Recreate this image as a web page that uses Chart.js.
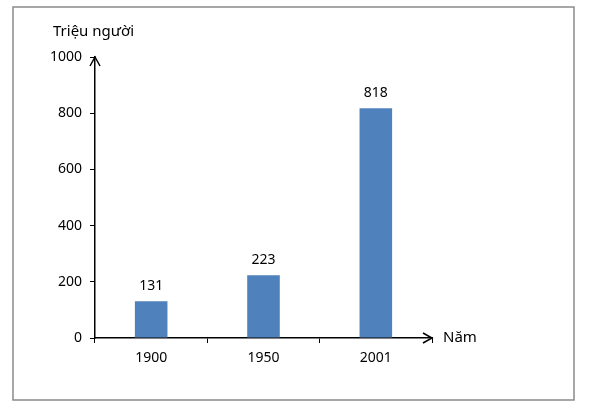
<!DOCTYPE html>
<html>
<head>
<meta charset="utf-8">
<script src="https://cdn.jsdelivr.net/npm/chart.js@4"></script>
<style>
  html, body { margin: 0; padding: 0; background: #fff; }
  #wrap { width: 589px; height: 408px; position: relative; }
</style>
</head>
<body>
<div id="wrap"><canvas id="popChart"></canvas></div>
<script>
// data
const years = ["1900", "1950", "2001"];
const population = [131, 223, 818];
const yTicks = [0, 200, 400, 600, 800, 1000];
const yTitle = "Triệu người";
const xTitle = "Năm";

const FONT = "'Noto Sans', 'DejaVu Sans', sans-serif";

// frame, arrows, axis titles and value labels
const decor = {
  id: "decor",
  afterDraw(chart) {
    const ctx = chart.ctx;
    const a = chart.chartArea;
    ctx.save();
    // outer frame
    ctx.strokeStyle = "#8a8a8a";
    ctx.lineWidth = 1.5;
    ctx.strokeRect(13, 7, 561, 393);

    // arrows
    ctx.strokeStyle = "#000";
    ctx.lineWidth = 1.5;
    ctx.beginPath();
    ctx.moveTo(a.left - 5, a.top + 9);
    ctx.lineTo(a.left, a.top);
    ctx.lineTo(a.left + 5, a.top + 9);
    ctx.moveTo(a.right - 9, a.bottom - 5);
    ctx.lineTo(a.right, a.bottom);
    ctx.lineTo(a.right - 9, a.bottom + 5);
    ctx.stroke();

    ctx.fillStyle = "#000";
    ctx.font = "15px " + FONT;
    ctx.textBaseline = "middle";
    ctx.textAlign = "left";
    ctx.fillText(yTitle, 53, 32);
    ctx.fillText(xTitle, a.right + 11, a.bottom);

    // values above bars
    ctx.font = "14px " + FONT;
    ctx.textAlign = "center";
    const meta = chart.getDatasetMeta(0);
    meta.data.forEach((bar, i) => {
      ctx.fillText(String(population[i]), bar.x, bar.y - 15);
    });
    ctx.restore();
  }
};

new Chart(document.getElementById("popChart"), {
  type: "bar",
  data: {
    labels: years,
    datasets: [{
      data: population,
      backgroundColor: "#4f81bd",
      categoryPercentage: 0.29,
      barPercentage: 1
    }]
  },
  options: {
    responsive: true,
    maintainAspectRatio: false,
    animation: false,
    layout: { padding: { left: 0, top: 57, right: 157, bottom: 0 } },
    plugins: { legend: { display: false }, tooltip: { enabled: false } },
    scales: {
      x: {
        afterFit(scale) { scale.height = 70; },
        grid: { display: true, drawOnChartArea: false, drawTicks: true, tickLength: 5, color: "#000", offset: true },
        border: { display: true, color: "#000", width: 1.5 },
        ticks: { color: "#000", font: { family: FONT, size: 14 }, padding: 7 }
      },
      y: {
        min: 0,
        max: 1000,
        afterFit(scale) { scale.width = 95; },
        afterBuildTicks(scale) { scale.ticks = yTicks.map(v => ({ value: v })); },
        grid: { display: true, drawOnChartArea: false, drawTicks: true, tickLength: 5, color: "#000" },
        border: { display: true, color: "#000", width: 1.5 },
        ticks: { color: "#000", font: { family: FONT, size: 14 }, padding: 8, callback: v => String(v) }
      }
    }
  },
  plugins: [decor]
});
</script>
</body>
</html>
